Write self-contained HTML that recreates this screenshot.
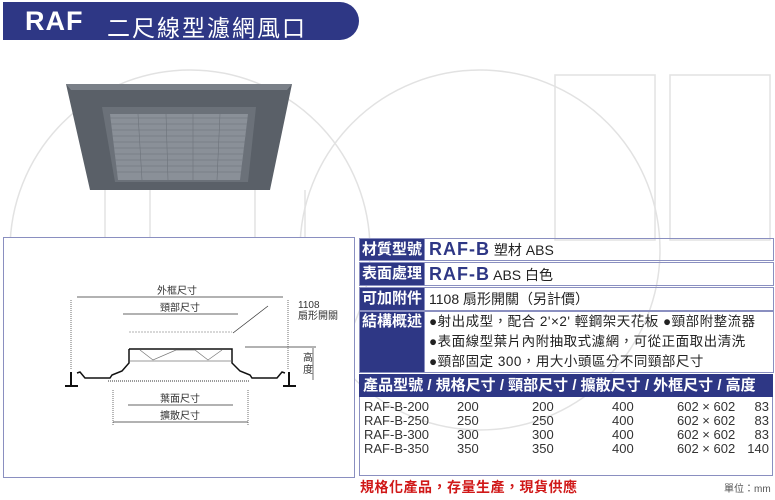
<!DOCTYPE html>
<html><head><meta charset="utf-8"><style>
body{margin:0;width:775px;height:500px;background:#fff;position:relative;overflow:hidden;font-family:"Liberation Sans","Noto Sans CJK TC",sans-serif}
.a{position:absolute}
.hdr{left:3px;top:2px;width:356px;height:38px;background:#2e3785;border-radius:0 19px 19px 0;color:#fff}
.lab{position:absolute;left:359px;width:64px;background:#2e3785;color:#fff;font-size:15px;font-weight:bold;text-align:center;border:1px solid #8a8fc0;white-space:nowrap}
.val{position:absolute;left:424px;width:348px;border:1px solid #8a8fc0;font-size:14px;color:#222;white-space:nowrap}
.rb{font-weight:900;color:#2e3785;font-size:18px;letter-spacing:1px}
.tb td{font-size:13px;color:#333;padding:0;height:14px;line-height:14px}
</style></head><body>
<svg class="a" style="left:0;top:0" width="775" height="500">
<g fill="none" stroke="#e2e2e2" stroke-width="1.5">
<circle cx="190" cy="250" r="180"/>
<circle cx="480" cy="250" r="180"/>
<line x1="105" y1="190" x2="105" y2="237"/><line x1="150" y1="190" x2="150" y2="237"/>
<line x1="255" y1="190" x2="255" y2="237"/><line x1="305" y1="190" x2="305" y2="237"/>
<rect x="555" y="75" width="100" height="165"/><rect x="670" y="75" width="100" height="165"/>
</g>
<polygon points="66,84 292,84 270,190 90,190" fill="#5a6068"/>
<polygon points="66,84 292,84 287,90 71,90" fill="#7a8088"/>
<polygon points="102,107 256,107 248,182 115,182" fill="#6b7179"/>
<polygon points="110,114 248,114 240,180 118,180" fill="#8a9098"/>
<g stroke="#6d737b" stroke-width="0.6">
<line x1="110" y1="118" x2="248" y2="118"/><line x1="111" y1="124" x2="247" y2="124"/><line x1="112" y1="130" x2="246" y2="130"/><line x1="112" y1="136" x2="245" y2="136"/><line x1="113" y1="142" x2="245" y2="142"/><line x1="114" y1="148" x2="244" y2="148"/><line x1="115" y1="154" x2="243" y2="154"/><line x1="115" y1="160" x2="242" y2="160"/><line x1="116" y1="166" x2="242" y2="166"/><line x1="117" y1="172" x2="241" y2="172"/>
<line x1="138" y1="114" x2="142" y2="180"/><line x1="166" y1="114" x2="168" y2="180"/><line x1="193" y1="114" x2="193" y2="180"/><line x1="220" y1="114" x2="217" y2="180"/>
</g>
<rect x="3.5" y="237.5" width="351" height="240" fill="#fff" stroke="#8a8fc0" stroke-width="1"/>
<g stroke="#333" stroke-width="0.7" fill="none">
<line x1="77" y1="297" x2="283" y2="297"/><line x1="123" y1="314" x2="238" y2="314"/>
<line x1="128" y1="405" x2="233" y2="405"/><line x1="113" y1="422" x2="248" y2="422"/>
<line x1="313" y1="348" x2="313" y2="380"/><line x1="245" y1="347" x2="316" y2="347"/>
<line x1="71" y1="300" x2="71" y2="370" stroke-dasharray="1,1"/><line x1="288" y1="300" x2="288" y2="370" stroke-dasharray="1,1"/>
<line x1="113" y1="390" x2="113" y2="425" stroke-dasharray="1,1"/><line x1="248" y1="390" x2="248" y2="425" stroke-dasharray="1,1"/>
<line x1="233" y1="333" x2="268" y2="306"/>
<path d="M129,332 L232,332" stroke="#999" stroke-dasharray="2,1"/>
<polyline points="129,349 129,363 122,371 112,375 110,378 85,378 80,372 77,373" stroke="#111" stroke-width="1.5"/>
<polyline points="129,349 232,349 232,363 240,371 250,375 252,378 277,378 282,372 285,373" stroke="#111" stroke-width="1.5"/>
<polyline points="140,350 153,360 176,350 195,350 208,360 222,350" stroke="#777"/>
<line x1="130" y1="361" x2="232" y2="361" stroke="#777"/>
<line x1="108" y1="381" x2="250" y2="381" stroke="#999" stroke-width="2" stroke-dasharray="1,1"/>
<line x1="71" y1="372" x2="71" y2="385" stroke="#111" stroke-width="2"/><line x1="65" y1="386" x2="78" y2="386" stroke="#111" stroke-width="2"/>
<line x1="289" y1="372" x2="289" y2="385" stroke="#111" stroke-width="2"/><line x1="283" y1="386" x2="296" y2="386" stroke="#111" stroke-width="2"/>
</g>
<g font-size="10" fill="#333" font-family="Liberation Sans,Noto Sans CJK TC,sans-serif">
<text x="157" y="294">外框尺寸</text><text x="160" y="311">頸部尺寸</text>
<text x="160" y="402">葉面尺寸</text><text x="160" y="419">擴散尺寸</text>
<text x="298" y="308">1108</text><text x="298" y="319">扇形開關</text>
<text x="303" y="361">高</text><text x="303" y="373">度</text>
</g>
</svg>
<div class="a hdr"><span style="position:absolute;left:22px;top:4px;font-size:27px;font-weight:900;letter-spacing:1px">RAF</span><span style="position:absolute;left:104px;top:7px;font-size:23px;letter-spacing:2px">二尺線型濾網風口</span></div>
<div class="lab" style="top:238px;height:21px;line-height:21px">材質型號</div>
<div class="val" style="top:238px;height:21px;line-height:21px;padding-left:4px;width:344px"><span class="rb">RAF-B</span> 塑材 ABS</div>
<div class="lab" style="top:262px;height:22px;line-height:22px">表面處理</div>
<div class="val" style="top:262px;height:22px;line-height:22px;padding-left:4px;width:344px"><span class="rb">RAF-B</span> ABS 白色</div>
<div class="lab" style="top:287px;height:22px;line-height:22px">可加附件</div>
<div class="val" style="top:287px;height:22px;line-height:22px;padding-left:4px;width:344px">1108 扇形開關（另計價）</div>
<div class="lab" style="top:311px;height:60px;line-height:20px">結構概述</div>
<div class="val" style="top:311px;height:60px;line-height:20px;padding-left:4px;width:344px;letter-spacing:0.5px;font-size:13.5px">●射出成型，配合 2'×2' 輕鋼架天花板 ●頸部附整流器<br>●表面線型葉片內附抽取式濾網，可從正面取出清洗<br>●頸部固定 300，用大小頭區分不同頸部尺寸</div>
<div class="a" style="left:359px;top:374px;width:414px;height:23px;background:#2e3785;color:#fff;font-size:15px;font-weight:bold;line-height:23px;white-space:nowrap">&nbsp;產品型號 / 規格尺寸 / 頸部尺寸 / 擴散尺寸 / 外框尺寸 / 高度</div>
<div class="a" style="left:359px;top:397px;width:412px;height:78px;border:1px solid #8a8fc0;border-top:none"></div>
<table class="a tb" style="left:364px;top:400px;width:405px;border-collapse:collapse">
<tr><td style="width:93px">RAF-B-200</td><td style="width:75px">200</td><td style="width:80px">200</td><td style="width:65px">400</td><td style="width:70px">602 × 602</td><td style="text-align:right">83</td></tr>
<tr><td>RAF-B-250</td><td>250</td><td>250</td><td>400</td><td>602 × 602</td><td style="text-align:right">83</td></tr>
<tr><td>RAF-B-300</td><td>300</td><td>300</td><td>400</td><td>602 × 602</td><td style="text-align:right">83</td></tr>
<tr><td>RAF-B-350</td><td>350</td><td>350</td><td>400</td><td>602 × 602</td><td style="text-align:right">140</td></tr>
</table>
<div class="a" style="left:360px;top:477px;color:#d01818;font-size:14px;font-weight:bold;letter-spacing:0.5px">規格化產品，存量生產，現貨供應</div>
<div class="a" style="left:724px;top:480px;color:#555;font-size:10px">單位：mm</div>
</body></html>
